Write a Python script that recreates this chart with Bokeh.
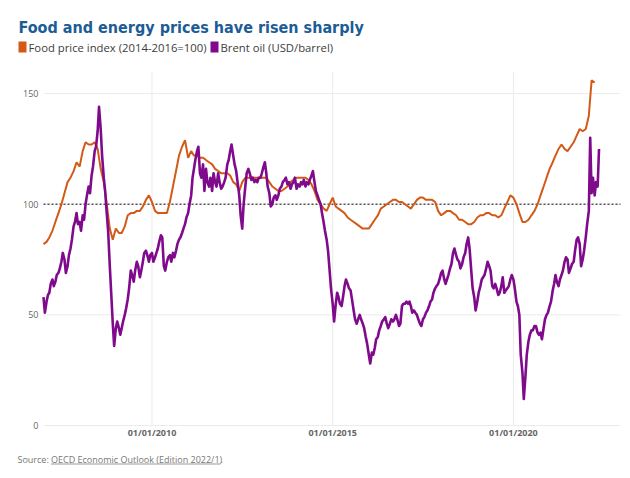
import pandas as pd
from bokeh.plotting import figure
from bokeh.models import Range1d, Label, BoxAnnotation, ColumnDataSource
from bokeh.core.properties import value
from bokeh.embed import file_html
from bokeh.resources import INLINE

# ---------------- data ----------------
# Food price index (2014-2016=100), monthly from Jan 2007
food_2007 = [82, 83, 85, 88, 92, 96, 100, 105, 110, 112, 115, 119]
food_2008 = [117, 124, 128, 127, 127, 128, 125, 116, 110, 100, 89, 84]
food_2009 = [89, 87, 87, 90, 95, 96, 96, 97, 97, 99, 102, 104]
food_2010 = [101, 97, 96, 96, 96, 96, 101, 108, 115, 122, 126, 129]
food_2011 = [121, 124, 122, 122, 121, 121, 120, 119, 118, 116, 115, 114]
food_2012 = [114, 114, 113, 110, 109, 106, 110, 112, 112, 112, 112, 112]
food_2013 = [112, 112, 112, 110, 108, 107, 106, 106, 107, 108, 110, 111]
food_2014 = [112, 112, 112, 112, 111, 109, 106, 102, 100, 98, 97, 100]
food_2015 = [103, 99, 98, 97, 96, 94, 93, 92, 91, 90, 89, 89]
food_2016 = [89, 91, 93, 95, 98, 99, 100, 101, 102, 102, 101, 101]
food_2017 = [100, 99, 98, 100, 102, 103, 103, 102, 102, 102, 101, 97]
food_2018 = [95, 96, 97, 97, 96, 95, 93, 93, 92, 91, 91, 92]
food_2019 = [94, 95, 95, 96, 96, 95, 95, 94, 95, 98, 101, 104]
food_2020 = [103, 100, 96, 92, 92, 93, 95, 97, 100, 104, 108, 112]
food_2021 = [116, 119, 122, 125, 127, 125, 124, 126, 128, 131, 134, 133]
food_2022 = [134, 140, 156, 155]

# Brent oil (USD/barrel), twice a month (1st and 15th) from Jan 2007
oil_2007 = [58, 51, 56, 59, 60, 64, 66, 63, 65, 68, 69, 71, 74, 78, 75, 69, 72, 77, 80, 84, 90, 92, 96, 91]
oil_2008 = [92, 88, 95, 93, 100, 104, 108, 105, 113, 117, 124, 126, 133, 144, 134, 122, 112, 106, 96, 88, 72, 60, 46, 36]
oil_2009 = [44, 47, 44, 41, 44, 47, 50, 53, 57, 62, 70, 68, 65, 70, 74, 72, 67, 70, 74, 78, 79, 77, 74, 77]
oil_2010 = [78, 74, 76, 78, 80, 83, 86, 85, 72, 70, 74, 76, 77, 74, 78, 76, 79, 82, 84, 85, 87, 89, 91, 94]
oil_2011 = [96, 100, 104, 112, 116, 120, 124, 126, 114, 112, 118, 106, 116, 110, 108, 112, 106, 114, 110, 108, 114, 110, 107, 108]
oil_2012 = [110, 112, 118, 120, 124, 127, 122, 118, 115, 110, 104, 95, 89, 100, 108, 114, 116, 114, 111, 112, 110, 111, 110, 112]
oil_2013 = [112, 114, 117, 119, 114, 108, 105, 99, 100, 103, 104, 102, 104, 107, 108, 110, 111, 112, 109, 110, 107, 109, 110, 112]
oil_2014 = [107, 109, 108, 110, 109, 111, 108, 110, 109, 111, 113, 115, 110, 106, 104, 102, 100, 96, 92, 88, 84, 79, 70, 62]
oil_2015 = [55, 47, 55, 60, 58, 55, 54, 58, 63, 66, 64, 62, 61, 57, 52, 48, 46, 48, 50, 48, 46, 44, 40, 37]
oil_2016 = [32, 28, 33, 32, 35, 39, 40, 43, 45, 47, 48, 49, 46, 44, 46, 48, 47, 48, 50, 48, 45, 46, 54, 55]
oil_2017 = [55, 56, 55, 56, 54, 51, 52, 51, 50, 48, 46, 45, 48, 49, 51, 52, 54, 56, 57, 60, 62, 63, 64, 66]
oil_2018 = [69, 70, 66, 64, 66, 68, 71, 73, 78, 80, 77, 75, 74, 71, 73, 76, 78, 82, 85, 80, 70, 62, 58, 52]
oil_2019 = [56, 60, 63, 66, 67, 68, 71, 74, 72, 70, 63, 62, 64, 62, 59, 60, 63, 67, 60, 61, 62, 63, 66, 68]
oil_2020 = [66, 62, 56, 54, 50, 32, 24, 12, 22, 32, 38, 41, 43, 43, 45, 45, 42, 41, 42, 39, 44, 48, 50, 51]
oil_2021 = [54, 56, 61, 64, 68, 65, 63, 66, 68, 70, 74, 76, 75, 69, 71, 73, 74, 79, 84, 85, 82, 72, 75, 79]
oil_2022 = [85, 91, 97, 130, 105, 112, 104, 110, 108, 125]

x_tick_dates = ["2010-01-01", "2015-01-01", "2020-01-01"]
y_ticks = [0, 50, 100, 150]
reference_level = 100
x_start, x_end = "2007-01-01", "2022-12-18"   # plot-area x extent
y_start, y_end = 0, 160                        # plot-area y extent

title_text = "Food and energy prices have risen sharply"
food_label = "Food price index (2014-2016=100)"
oil_label = "Brent oil (USD/barrel)"
source_prefix = "Source:"
source_link = "OECD Economic Outlook (Edition 2022/1)"

# ---------------- build series ----------------
food = (food_2007 + food_2008 + food_2009 + food_2010 + food_2011 + food_2012 + food_2013 +
        food_2014 + food_2015 + food_2016 + food_2017 + food_2018 + food_2019 + food_2020 +
        food_2021 + food_2022)
oil = (oil_2007 + oil_2008 + oil_2009 + oil_2010 + oil_2011 + oil_2012 + oil_2013 +
       oil_2014 + oil_2015 + oil_2016 + oil_2017 + oil_2018 + oil_2019 + oil_2020 +
       oil_2021 + oil_2022)
food_dates = pd.date_range("2007-01-01", periods=len(food), freq="MS")
oil_dates = pd.date_range("2007-01-01", periods=len(oil), freq="SMS")

food_src = ColumnDataSource(dict(x=food_dates, y=food))
oil_src = ColumnDataSource(dict(x=oil_dates, y=oil))

FOOD_C = "#d35a16"
OIL_C = "#800a8c"
GRID_C = "#ebebeb"
TXT_C = "#666666"

# ---------------- layout: the frame covers the whole canvas ----------------
W, H = 630, 478
AL, AR, AT, AB = 43, 620, 71, 425   # plot area in canvas pixels
d0, d1 = pd.Timestamp(x_start), pd.Timestamp(x_end)
span = d1 - d0
xr = Range1d(d0 - span * (AL / (AR - AL)), d1 + span * ((W - AR) / (AR - AL)))
yspan = y_end - y_start
yr = Range1d(y_start - yspan * ((H - AB) / (AB - AT)), y_end + yspan * (AT / (AB - AT)))

p = figure(width=W, height=H, x_axis_type="datetime", x_range=xr, y_range=yr,
           x_axis_location=None, y_axis_location=None, title_location=None,
           output_backend="svg", toolbar_location=None, min_border=0)
p.outline_line_color = None
p.background_fill_color = "white"
p.border_fill_color = "white"
for g in p.grid:
    g.visible = False

tick_x = [pd.Timestamp(t) for t in x_tick_dates]
tick_lbl = [t.strftime("%d/%m/%Y") for t in tick_x]

# grid lines
p.segment(x0=tick_x, x1=tick_x, y0=[y_start] * len(tick_x), y1=[y_end] * len(tick_x),
          line_color=GRID_C, line_width=1)
p.segment(x0=[d0] * len(y_ticks), x1=[d1] * len(y_ticks), y0=y_ticks, y1=y_ticks,
          line_color=GRID_C, line_width=1)

# tick labels
p.text(x=tick_x, y=[y_start] * len(tick_x), text=tick_lbl, y_offset=7,
       text_align="center", text_baseline="middle", text_font=value("Open Sans"),
       text_font_size=value("9px"), text_font_style=value("bold"), text_color=TXT_C)
p.text(x=[d0] * len(y_ticks), y=y_ticks, text=[str(v) for v in y_ticks], x_offset=-5,
       text_align="right", text_baseline="middle", text_font=value("Open Sans"),
       text_font_size=value("9px"), text_color=TXT_C)

# reference line at 100
p.segment(x0=[d0], x1=[d1], y0=[reference_level], y1=[reference_level],
          line_color="#555555", line_dash="2 2", line_width=1.5)

# series
p.line("x", "y", source=food_src, line_color=FOOD_C, line_width=2)
p.line("x", "y", source=oil_src, line_color=OIL_C, line_width=2.6, line_join="round")

# ---------------- title, legend, source (screen units, y measured upward) ----------------
def lab(px, py, text, size, color, font="Open Sans", style="normal", baseline="middle"):
    p.add_layout(Label(x=px, y=H - py, x_units="screen", y_units="screen", text=text,
                       text_font=font, text_font_size=size, text_color=color,
                       text_font_style=style, text_baseline=baseline, text_align="left"))

def box(left, right, top, bottom, color):
    p.add_layout(BoxAnnotation(left=left, right=right, top=H - top, bottom=H - bottom,
                               left_units="screen", right_units="screen",
                               top_units="screen", bottom_units="screen",
                               fill_color=color, fill_alpha=1, line_color=None))

lab(18, 27, title_text, "16px", "#1c5d96", font="DejaVu Sans Condensed, Roboto",
    style="bold", baseline="alphabetic")

box(18, 26, 41, 52, FOOD_C)
lab(28, 46.5, food_label, "11.3px", "#3c3c3c")
box(210, 218, 41, 52, OIL_C)
lab(220, 46.5, oil_label, "11.3px", "#3c3c3c")

lab(17, 459, source_prefix, "9px", "#777777")
lab(50.5, 459, source_link, "9px", "#777777")
lab(220, 459, ".", "9px", "#777777")
box(50.5, 220, 463, 464, "#999999")

open("out.html", "w").write(file_html(p, INLINE))
